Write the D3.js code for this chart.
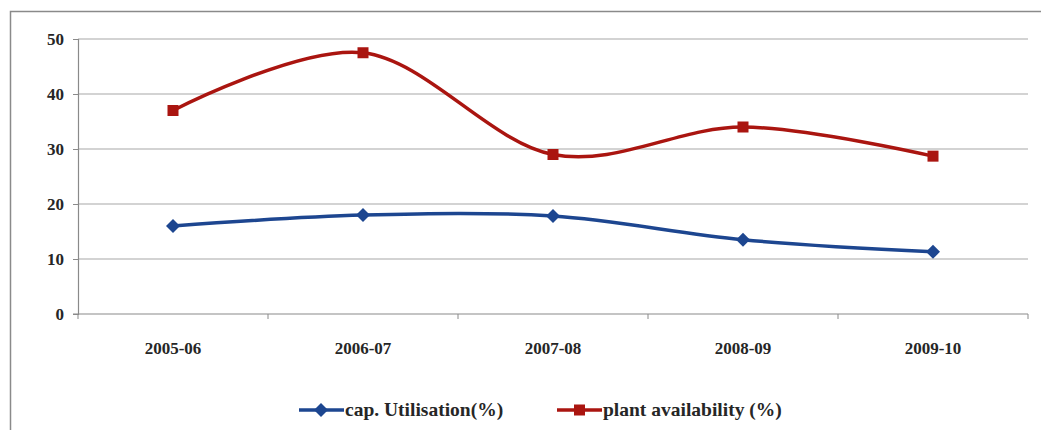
<!DOCTYPE html>
<html>
<head>
<meta charset="utf-8">
<script src="https://cdn.jsdelivr.net/npm/d3@7"></script>
<style>
  html, body { margin: 0; padding: 0; background: #fff; }
  svg { display: block; }
</style>
</head>
<body>
<svg id="chart" width="1041" height="430"></svg>
<script>
// Years on the category axis
const categories = ["2005-06", "2006-07", "2007-08", "2008-09", "2009-10"];
// Capacity utilisation (%)
const capUtilisation = [16, 18, 17.8, 13.5, 11.3];
// Plant availability (%)
const plantAvailability = [37, 47.5, 29, 34, 28.7];
// Value axis ticks
const yTicks = [0, 10, 20, 30, 40, 50];
const seriesNames = ["cap. Utilisation(%)", "plant availability (%)"];

const FONT = "'Liberation Serif', 'Times New Roman', serif";
const TEXT_COLOR = "#262626";

const svg = d3.select("#chart");
const plot = { left: 78, right: 1028, top: 39, bottom: 314 };

// Outer chart frame
svg.append("rect")
  .attr("x", 10.5).attr("y", 11.5)
  .attr("width", 1060).attr("height", 440)
  .attr("fill", "none").attr("stroke", "#8a8a8a").attr("stroke-width", 1.5);

const x = d3.scaleBand().domain(categories).range([plot.left, plot.right]).padding(0);
const y = d3.scaleLinear().domain([0, 50]).range([plot.bottom, plot.top]);

// Horizontal gridlines
svg.append("g").selectAll("line").data(yTicks.filter(t => t > 0)).join("line")
  .attr("x1", plot.left).attr("x2", plot.right)
  .attr("y1", d => y(d)).attr("y2", d => y(d))
  .attr("stroke", "#a8a8a8").attr("stroke-width", 1.2);

// Y axis
const yAxis = svg.append("g").attr("transform", `translate(${plot.left},0)`)
  .call(d3.axisLeft(y).tickValues(yTicks).tickSize(5).tickPadding(9).tickFormat(d3.format("d")));
yAxis.attr("font-family", FONT).attr("font-size", 17).attr("font-weight", "bold");
yAxis.select(".domain").attr("stroke", "#8a8a8a").attr("stroke-width", 1.2);
yAxis.selectAll(".tick line").attr("stroke", "#8a8a8a");
yAxis.selectAll("text").attr("fill", TEXT_COLOR);

// X axis: tick marks at category boundaries, labels at centres
const xAxisG = svg.append("g").attr("transform", `translate(0,${plot.bottom})`)
  .attr("font-family", FONT).attr("font-weight", "bold");
xAxisG.append("line").attr("x1", plot.left - 5).attr("x2", plot.right)
  .attr("stroke", "#8a8a8a").attr("stroke-width", 1.2);
const boundaries = categories.map(c => x(c) + x.bandwidth()).concat([plot.left]);
xAxisG.selectAll(".bt").data(boundaries).join("line")
  .attr("x1", d => d).attr("x2", d => d).attr("y1", 0).attr("y2", 5)
  .attr("stroke", "#8a8a8a");
xAxisG.selectAll(".lbl").data(categories).join("text")
  .attr("x", d => x(d) + x.bandwidth() / 2).attr("y", 40)
  .attr("text-anchor", "middle").attr("font-size", 17).attr("fill", TEXT_COLOR)
  .text(d => d);

const cx = c => x(c) + x.bandwidth() / 2;
const line = d3.line().curve(d3.curveCatmullRom.alpha(0)).x(d => cx(d.c)).y(d => y(d.v));

const blue = "#1d4690", red = "#aa1510";
const blueData = categories.map((c, i) => ({ c, v: capUtilisation[i] }));
const redData = categories.map((c, i) => ({ c, v: plantAvailability[i] }));

// Square rotated 45 degrees
const diamondPath = "M0,-7L7,0L0,7L-7,0Z";

svg.append("path").datum(redData).attr("d", line)
  .attr("fill", "none").attr("stroke", red).attr("stroke-width", 3.5);
svg.append("g").selectAll("rect").data(redData).join("rect")
  .attr("x", d => cx(d.c) - 5.5).attr("y", d => y(d.v) - 5.5)
  .attr("width", 11).attr("height", 11).attr("fill", red);

svg.append("path").datum(blueData).attr("d", line)
  .attr("fill", "none").attr("stroke", blue).attr("stroke-width", 3.5);
svg.append("g").selectAll("path").data(blueData).join("path")
  .attr("d", diamondPath)
  .attr("transform", d => `translate(${cx(d.c)},${y(d.v)})`)
  .attr("fill", blue);

// Legend
const legend = svg.append("g").attr("font-family", FONT).attr("font-weight", "bold");
const ly = 410;
const entries = [
  { name: seriesNames[0], color: blue, x0: 299, shape: "diamond" },
  { name: seriesNames[1], color: red, x0: 557, shape: "square" }
];
entries.forEach(e => {
  legend.append("line").attr("x1", e.x0).attr("x2", e.x0 + 45)
    .attr("y1", ly).attr("y2", ly).attr("stroke", e.color).attr("stroke-width", 3.5);
  if (e.shape === "diamond") {
    legend.append("path").attr("d", diamondPath).attr("transform", `translate(${e.x0 + 22},${ly})`).attr("fill", e.color);
  } else {
    legend.append("rect").attr("x", e.x0 + 17).attr("y", ly - 5.5).attr("width", 11).attr("height", 11).attr("fill", e.color);
  }
  legend.append("text").attr("x", e.x0 + 46).attr("y", ly + 6)
    .attr("font-size", 19.5).attr("fill", TEXT_COLOR).text(e.name);
});
</script>
</body>
</html>
